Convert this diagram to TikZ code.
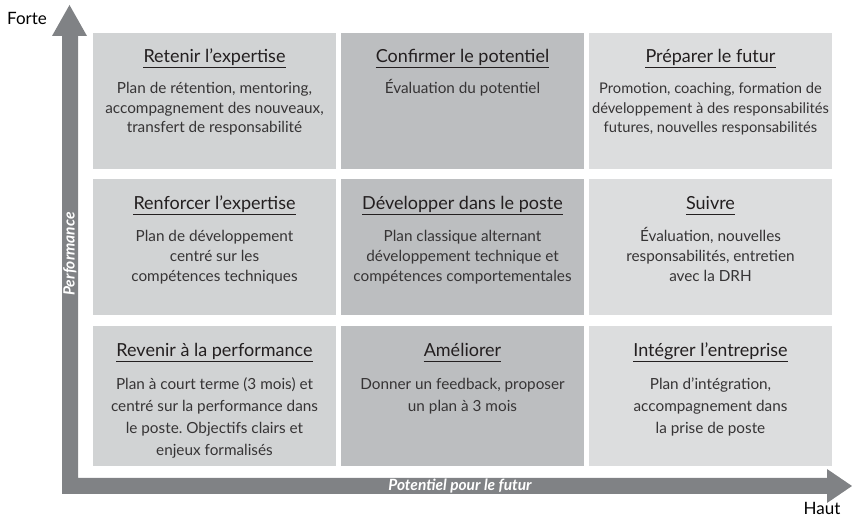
\documentclass[tikz,border=0pt]{standalone}
\usepackage{fontspec}
\setmainfont{Lato}
\frenchspacing
\definecolor{cA}{HTML}{D1D3D4}
\definecolor{cB}{HTML}{BCBEC0}
\definecolor{cC}{HTML}{DCDDDE}
\definecolor{axis}{HTML}{808285}
\definecolor{txt}{HTML}{231F20}
\definecolor{btxt}{HTML}{363435}
\newcommand{\ttlfont}{\fontsize{18}{21}\selectfont}
\newcommand{\bdyfont}{\fontsize{15.3}{19.5}\selectfont}
\begin{document}
\begin{tikzpicture}[x=1pt,y=-1pt,
  cell/.style={draw=none, inner sep=0, minimum width=243pt, anchor=north west},
  ttl/.style={font=\ttlfont, text=txt, anchor=base, inner sep=0},
  bdy/.style={font=\bdyfont, text=btxt, anchor=base, align=center, inner sep=0},
  uline/.style={draw=txt, line width=1.4pt},
  axlbl/.style={font=\fontsize{15.5}{18}\selectfont\bfseries\itshape, text=white, inner sep=0},
  endlbl/.style={font=\fontsize{17}{20}\selectfont, text=black, inner sep=0}]
\useasboundingbox (0,0) rectangle (852,518);
% axes
\fill[axis] (62,494) -- (62,36) -- (52,36) -- (69.5,5) -- (87,36) -- (78,36) -- (78,478)
  -- (827,478) -- (827,469) -- (852,486) -- (827,503) -- (827,494) -- cycle;
\node[axlbl, rotate=90] (perf) at (70,254) {Performance};
\node[axlbl] (pot) at (460,486) {Potentiel pour le futur};
\node[endlbl] (forte) at (27,18) {Forte};
\node[endlbl] (haut) at (822,508) {Haut};
% cells
\node[cell, fill=cA, minimum height=136pt] (b11) at (93,33) {};
\node[cell, fill=cB, minimum height=136pt] (b12) at (341,33) {};
\node[cell, fill=cC, minimum height=136pt] (b13) at (589,33) {};
\node[cell, fill=cA, minimum height=136pt] (b21) at (93,179) {};
\node[cell, fill=cB, minimum height=136pt] (b22) at (341,179) {};
\node[cell, fill=cC, minimum height=136pt] (b23) at (589,179) {};
\node[cell, fill=cA, minimum height=140pt] (b31) at (93,326) {};
\node[cell, fill=cB, minimum height=140pt] (b32) at (341,326) {};
\node[cell, fill=cC, minimum height=140pt] (b33) at (589,326) {};
% titles
\node[ttl] (t11) at (214.5,63) {Retenir l’expertise};
\node[ttl] (t12) at (462.5,63) {Confirmer le potentiel};
\node[ttl] (t13) at (710.5,63) {Préparer le futur};
\node[ttl] (t21) at (214.5,210) {Renforcer l’expertise};
\node[ttl] (t22) at (462.5,210) {Développer dans le poste};
\node[ttl] (t23) at (710.5,210) {Suivre};
\node[ttl] (t31) at (214.5,357) {Revenir à la performance};
\node[ttl] (t32) at (462.5,357) {Améliorer};
\node[ttl] (t33) at (710.5,357) {Intégrer l’entreprise};
\foreach \t in {t11,t12,t13,t21,t22,t23,t31,t32,t33}
  \draw[uline] ([yshift=-4.5pt]\t.base west) -- ([yshift=-4.5pt]\t.base east);
% bodies (anchor base = baseline of the last line)
\node[bdy] (d11) at (214.5,133) {Plan de rétention, mentoring,\\accompagnement des nouveaux,\\transfert de responsabilité};
\node[bdy] (d12) at (462.5,94) {Évaluation du potentiel};
\node[bdy, font=\fontsize{14.7}{19.5}\selectfont] (d13) at (710.5,133) {Promotion, coaching, formation de\\développement à des responsabilités\\futures, nouvelles responsabilités};
\node[bdy, font=\fontsize{15.3}{20}\selectfont] (d21) at (214.5,282) {Plan de développement\\centré sur les\\compétences techniques};
\node[bdy, font=\fontsize{15.3}{20}\selectfont] (d22) at (462.5,282) {Plan classique alternant\\développement technique et\\compétences comportementales};
\node[bdy, font=\fontsize{15.3}{20}\selectfont] (d23) at (710.5,282) {Évaluation, nouvelles\\responsabilités, entretien\\avec la DRH};
\node[bdy, font=\fontsize{15.3}{22}\selectfont] (d31) at (214.5,456) {Plan à court terme (3 mois) et\\centré sur la performance dans\\le poste. Objectifs clairs et\\enjeux formalisés};
\node[bdy, font=\fontsize{15.3}{22}\selectfont] (d32) at (462.5,412) {Donner un feedback, proposer\\un plan à 3 mois};
\node[bdy, font=\fontsize{15.3}{22}\selectfont] (d33) at (710.5,434) {Plan d’intégration,\\accompagnement dans\\la prise de poste};
\end{tikzpicture}
\end{document}
